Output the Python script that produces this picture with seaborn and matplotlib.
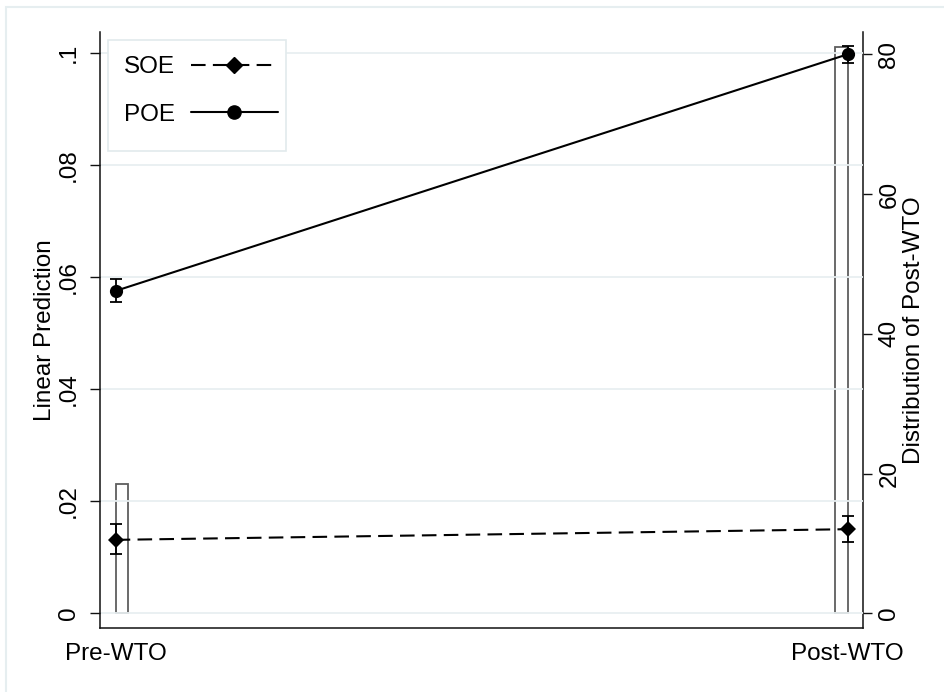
import numpy as np
import pandas as pd
import matplotlib
matplotlib.use('Agg')
import matplotlib.pyplot as plt
from matplotlib.lines import Line2D
from matplotlib.patches import Rectangle
import seaborn as sns

# ---- data ----
periods = ['Pre-WTO', 'Post-WTO']
soe_margin = [0.0131, 0.0150]
soe_lo = [0.0105, 0.0127]
soe_hi = [0.0159, 0.0174]
poe_margin = [0.0575, 0.0997]
poe_lo = [0.0555, 0.0982]
poe_hi = [0.0596, 0.1012]
dist_pct = [18.5, 81.0]          # histogram of Post-WTO (percent)
left_ticks = [0, 0.02, 0.04, 0.06, 0.08, 0.1]
left_ticklabels = ['0', '.02', '.04', '.06', '.08', '.1']
right_ticks = [0, 20, 40, 60, 80]

sns.set_style('white')
plt.rcParams['font.family'] = ['Liberation Sans', 'DejaVu Sans']
plt.rcParams['text.color'] = 'black'
plt.rcParams['axes.labelcolor'] = 'black'
plt.rcParams['xtick.color'] = 'black'
plt.rcParams['ytick.color'] = 'black'
FS = 17.5
DARK = '#111111'
GRID = '#e8eff1'

pos = np.arange(len(periods))
df = pd.DataFrame({
    'pos': np.concatenate([pos, pos]),
    'group': ['SOE'] * len(pos) + ['POE'] * len(pos),
    'margin': soe_margin + poe_margin,
    'lo': soe_lo + poe_lo,
    'hi': soe_hi + poe_hi,
})

fig = plt.figure(figsize=(9.45, 6.92), dpi=100)
ax = fig.add_axes([100 / 945, 1 - 628 / 692, 763 / 945, 596 / 692])

styles = {
    'SOE': dict(marker='D', markersize=8.2, linestyle=(0, (7, 3.5))),
    'POE': dict(marker='o', markersize=9.5, linestyle='-'),
}
for g, st in styles.items():
    sub = df[df['group'] == g]
    sns.lineplot(data=sub, x='pos', y='margin', color='black', lw=1.5,
                 markeredgecolor='black', markeredgewidth=0, errorbar=None,
                 ax=ax, zorder=4, **st)
    ax.errorbar(sub['pos'], sub['margin'],
                yerr=[sub['margin'] - sub['lo'], sub['hi'] - sub['margin']],
                fmt='none', ecolor='black', elinewidth=1.3, capsize=4.6,
                capthick=1.3, zorder=3)

# histogram on the second axis
ax2 = ax.twinx()
bar_w = 0.017
bar_left = [p if p == 0 else p - bar_w for p in pos]
ax2.bar(bar_left, dist_pct, width=bar_w, align='edge', fill=False,
        edgecolor='#5e5e5e', linewidth=1.3)
ax.set_zorder(ax2.get_zorder() + 1)
ax.patch.set_visible(False)

# axes limits / ticks
ax.set_xlim(-0.0214, 1.0209)
ax.set_ylim(-0.00262, 0.10367)
ax2.set_ylim(-2.1, 83.2)

ax.set_xticks(pos, periods)
ax.set_yticks(left_ticks, left_ticklabels, rotation=90, va='center')
ax2.set_yticks(right_ticks, [str(t) for t in right_ticks], rotation=90, va='center')

ax.tick_params(axis='x', length=7.5, width=1, pad=3.5, labelsize=FS, color=DARK)
ax.tick_params(axis='y', length=7.5, width=1, pad=7, labelsize=FS, color=DARK)
ax2.tick_params(axis='y', length=6.5, width=1, pad=4.5, labelsize=FS, color=DARK)

ax.yaxis.grid(True, color=GRID, lw=1.3)
ax.xaxis.grid(False)

for sp in ['top', 'right']:
    ax.spines[sp].set_visible(False)
for sp in ['top', 'left', 'bottom']:
    ax2.spines[sp].set_visible(False)
for sp in ['left', 'bottom']:
    ax.spines[sp].set_color(DARK)
    ax.spines[sp].set_linewidth(1.1)
ax2.spines['right'].set_color(DARK)
ax2.spines['right'].set_linewidth(1.1)

ax.set_xlabel('')
ax.set_ylabel('Linear Prediction', fontsize=FS)
ax.yaxis.set_label_coords(-0.058, 0.5)
ax2.set_ylabel('Distribution of Post-WTO', fontsize=FS)
ax2.yaxis.set_label_coords(1.052, 0.5)

# legend (text first, then key); Stata-style box with extra room at the bottom
handles = [
    Line2D([], [], color='black', lw=1.5, ls=(0, (7, 3.5)), marker='D', markersize=8.2),
    Line2D([], [], color='black', lw=1.5, ls='-', marker='o', markersize=9.5),
]
leg = ax.legend(handles, ['SOE', 'POE'], loc='upper left',
                bbox_to_anchor=(0.0105, 0.986), borderaxespad=0,
                markerfirst=False, fontsize=FS, handlelength=3.6,
                handletextpad=0.65, borderpad=0.65, labelspacing=1.05,
                frameon=False)
leg.set_zorder(6)
ax.add_patch(Rectangle((0.0105, 0.800), 0.2333, 0.186, transform=ax.transAxes,
                       facecolor='white', edgecolor='#e2eaec', lw=1.2, zorder=5))

# light outer frame as in the original export
fig.patches.append(Rectangle((6 / 945, -0.05), 1.2, 1.05 - 7 / 692, transform=fig.transFigure,
                             fill=False, edgecolor='#e6eef0', lw=1.5, zorder=0))

fig.savefig('out.png', dpi=100)
